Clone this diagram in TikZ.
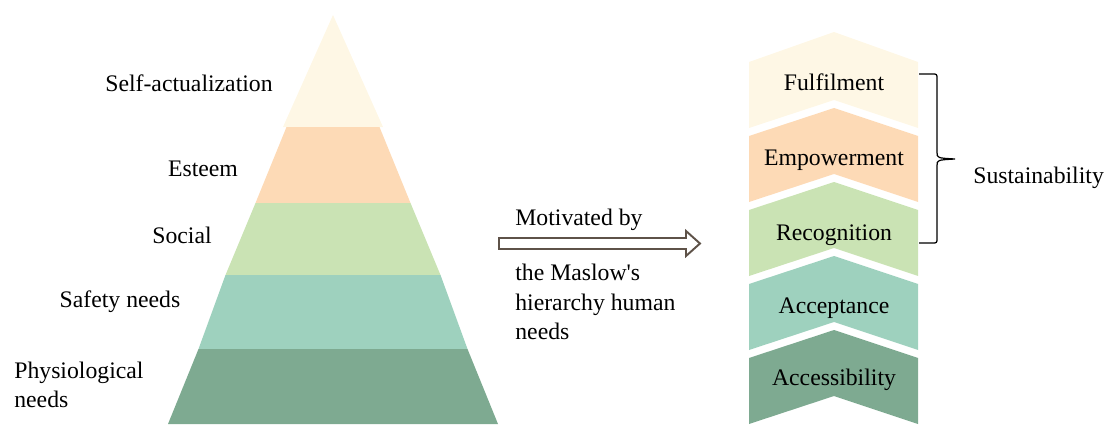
\documentclass[tikz,border=0pt]{standalone}
\usepackage{fontspec}
\setmainfont{Liberation Serif}
\definecolor{layercream}{RGB}{254, 247, 229}
\definecolor{layerpeach}{RGB}{253, 218, 182}
\definecolor{layergreen}{RGB}{202, 227, 180}
\definecolor{layerteal}{RGB}{158, 209, 190}
\definecolor{layerdark}{RGB}{126, 170, 145}
\definecolor{arrowbrown}{RGB}{94, 82, 72}
\usetikzlibrary{calc}

\begin{document}
\begin{tikzpicture}[
  txt/.style={inner sep=0pt, font=\fontsize{13.5}{16.8}\selectfont, align=left},
  hollow/.style={draw=arrowbrown, fill=white, line width=1.1pt, line join=miter}
]
  \useasboundingbox (0, 0) rectangle (22.2, 8.48);

  \fill[layercream] (6.66, 8.18) -- (7.66, 5.94) -- (5.66, 5.94) -- cycle;
  \fill[layerpeach] (5.73, 5.94) -- (7.59, 5.94) -- (8.21, 4.42) -- (5.11, 4.42) -- cycle;
  \fill[layergreen] (5.11, 4.42) -- (8.21, 4.42) -- (8.81, 2.98) -- (4.51, 2.98) -- cycle;
  \fill[layerteal] (4.51, 2.98) -- (8.81, 2.98) -- (9.35, 1.50) -- (3.97, 1.50) -- cycle;
  \fill[layerdark] (3.97, 1.50) -- (9.35, 1.50) -- (9.96, 0) -- (3.36, 0) -- cycle;

  \node[txt, anchor=base] (selfact) at (3.78, 6.64) {Self-actualization};
  \node[txt, anchor=base] (esteem) at (4.06, 4.96) {Esteem};
  \node[txt, anchor=base] (social) at (3.64, 3.62) {Social};
  \node[txt, anchor=base] (safety) at (2.40, 2.34) {Safety needs};
  \node[txt, anchor=west] (physio) at (0.28, 0.78) {Physiological\\needs};

  \draw[hollow] (9.98, 3.72) -- (13.72, 3.72) -- (13.72, 3.86) -- (14.00, 3.61)
    -- (13.72, 3.36) -- (13.72, 3.50) -- (9.98, 3.50) -- cycle;
  \node[txt, anchor=base west] (motiv) at (10.30, 3.98) {Motivated by};
  \node[txt, anchor=west] (maslow) at (10.30, 2.44) {the Maslow\textquotesingle s\\hierarchy human\\needs};

  \fill[layercream] (14.98, 7.24) -- (16.68, 7.84) -- (18.36, 7.24) -- (18.36, 5.92) -- (16.68, 6.48) -- (14.98, 5.92) -- cycle;
  \fill[layerpeach] (14.98, 5.76) -- (16.68, 6.32) -- (18.36, 5.76) -- (18.36, 4.44) -- (16.68, 5.00) -- (14.98, 4.44) -- cycle;
  \fill[layergreen] (14.98, 4.28) -- (16.68, 4.84) -- (18.36, 4.28) -- (18.36, 2.96) -- (16.68, 3.52) -- (14.98, 2.96) -- cycle;
  \fill[layerteal] (14.98, 2.80) -- (16.68, 3.36) -- (18.36, 2.80) -- (18.36, 1.48) -- (16.68, 2.04) -- (14.98, 1.48) -- cycle;
  \fill[layerdark] (14.98, 1.32) -- (16.68, 1.88) -- (18.36, 1.32) -- (18.36, 0) -- (16.68, 0.56) -- (14.98, 0) -- cycle;

  \node[txt, anchor=base] (fulfil) at (16.68, 6.68) {Fulfilment};
  \node[txt, anchor=base] (empower) at (16.68, 5.18) {Empowerment};
  \node[txt, anchor=base] (recog) at (16.68, 3.68) {Recognition};
  \node[txt, anchor=base] (accept) at (16.68, 2.22) {Acceptance};
  \node[txt, anchor=base] (access) at (16.68, 0.78) {Accessibility};

  \draw[line width=0.7pt] (18.38, 7.00) -- (18.64, 7.00) .. controls (18.74, 7.00) .. (18.74, 6.90)
    -- (18.74, 5.44) .. controls (18.74, 5.32) .. (19.10, 5.30) .. controls (18.74, 5.28) .. (18.74, 5.16)
    -- (18.74, 3.72) .. controls (18.74, 3.62) .. (18.64, 3.62) -- (18.38, 3.62);
  \node[txt, anchor=base west] (sustain) at (19.46, 4.82) {Sustainability};
\end{tikzpicture}
\end{document}
